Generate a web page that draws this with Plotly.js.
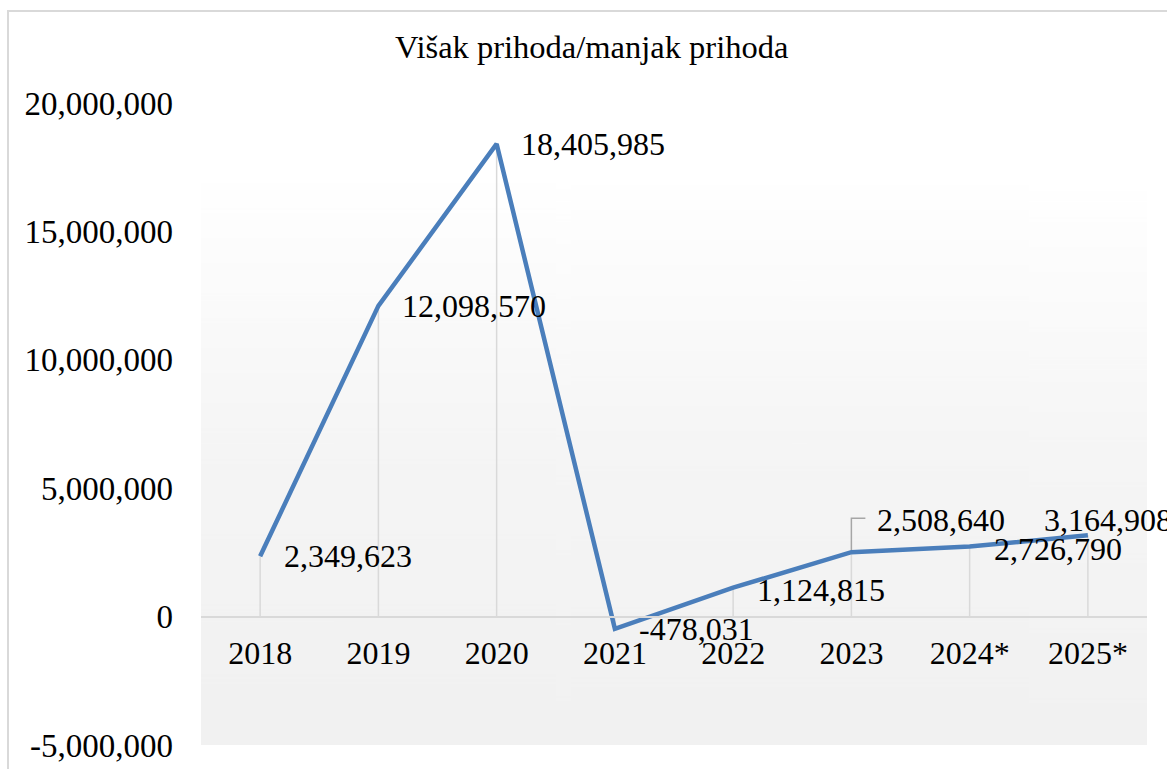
<!DOCTYPE html>
<html>
<head>
<meta charset="utf-8">
<script src="https://cdn.plot.ly/plotly-3.0.1.min.js"></script>
<style>
  html, body { margin: 0; padding: 0; background: #ffffff; }
  #frame { position: absolute; left: 7px; top: 10px; width: 1300px; height: 900px;
           border-left: 2px solid #d9d9d9; border-top: 2px solid #d9d9d9; box-sizing: border-box; }
  #chart { position: absolute; left: 0; top: 0; width: 1167px; height: 769px; }
</style>
</head>
<body>
<div id="frame"></div>
<div id="chart"></div>
<script>
// ---- data ----
const years = ['2018', '2019', '2020', '2021', '2022', '2023', '2024*', '2025*'];
const values = [2349623, 12098570, 18405985, -478031, 1124815, 2508640, 2726790, 3164908];
const yTickVals = [-5000000, 0, 5000000, 10000000, 15000000, 20000000];
const yTickText = ['-5,000,000', '0', '5,000,000', '10,000,000', '15,000,000', '20,000,000'];
const chartTitle = 'Višak prihoda/manjak prihoda';

// ---- label placement (pixel offsets, style only) ----
const labelShiftX = [22, 22, 22, 22, 22, 24, 22, -46];
const labelShiftY = [0, 0, 0, 0, -2, 32, -2, 15];

function fmt(v) {
  const s = Math.abs(v).toString().replace(/\B(?=(\d{3})+(?!\d))/g, ',');
  return (v < 0 ? '-' : '') + s;
}

// background gradient for plot area
const cv = document.createElement('canvas');
cv.width = 4; cv.height = 512;
const ctx = cv.getContext('2d');
const g = ctx.createLinearGradient(0, 0, 0, 512);
g.addColorStop(0, '#ffffff');
g.addColorStop(0.12, '#ffffff');
g.addColorStop(0.55, '#f5f5f5');
g.addColorStop(1, '#f1f1f1');
ctx.fillStyle = g;
ctx.fillRect(0, 0, 4, 512);
const bgURL = cv.toDataURL('image/png');

const FONT = 'Liberation Serif, Times New Roman, serif';

// category axis positions are referenced by serial index (numeric-looking names would be misread)
const idx = years.map((c, i) => i);

const shapes = [];
// drop lines
idx.forEach((i) => {
  shapes.push({
    type: 'line', xref: 'x', yref: 'y', layer: 'below',
    x0: i, x1: i, y0: 0, y1: values[i],
    line: { color: '#d9d9d9', width: 1.5 }
  });
});
// leader line for 2023 label
shapes.push({
  type: 'path', xref: 'x', yref: 'y', layer: 'below',
  xsizemode: 'pixel', ysizemode: 'pixel',
  xanchor: idx[5], yanchor: values[5],
  path: 'M0,2 L0,34 L14,34',
  line: { color: '#a6a6a6', width: 1.5 }
});

const annotations = idx.map((i) => ({
  x: i, y: values[i], xref: 'x', yref: 'y',
  text: fmt(values[i]), showarrow: false,
  xanchor: 'left', yanchor: 'middle',
  xshift: labelShiftX[i], yshift: labelShiftY[i],
  font: { family: FONT, size: 32, color: '#000000' }
}));

const trace = {
  type: 'scatter', mode: 'lines',
  x: years, y: values,
  line: { color: '#4a7ebb', width: 4.5 },
  hoverinfo: 'x+y'
};

const layout = {
  width: 1167, height: 769,
  margin: { l: 201, r: 20, t: 103, b: 24 },
  paper_bgcolor: 'rgba(0,0,0,0)',
  plot_bgcolor: 'rgba(0,0,0,0)',
  showlegend: false,
  font: { family: FONT, size: 32, color: '#000000' },
  title: {
    text: chartTitle,
    font: { family: FONT, size: 32.5, color: '#000000' },
    xref: 'container', yref: 'container',
    x: 0.507, y: 1 - 47 / 769, xanchor: 'center', yanchor: 'middle'
  },
  xaxis: {
    type: 'category', range: [-0.5, 7.5],
    anchor: 'free', position: 0.2,
    showgrid: false, zeroline: false,
    showline: true, linecolor: '#d9d9d9', linewidth: 2,
    ticks: '', tickfont: { family: FONT, size: 32, color: '#000000' },
    ticklabelstandoff: 8
  },
  yaxis: {
    range: [-5000000, 20000000],
    tickvals: yTickVals, ticktext: yTickText,
    showgrid: false, zeroline: false, showline: false,
    ticks: '', tickfont: { family: FONT, size: 33, color: '#000000' },
    ticklabelstandoff: 27
  },
  images: [{
    source: bgURL, xref: 'paper', yref: 'paper',
    x: 0, y: 1, sizex: 1, sizey: 1, xanchor: 'left', yanchor: 'top',
    sizing: 'stretch', layer: 'below'
  }],
  shapes: shapes,
  annotations: annotations
};

Plotly.newPlot('chart', [trace], layout, { displayModeBar: false, staticPlot: true });
</script>
</body>
</html>
